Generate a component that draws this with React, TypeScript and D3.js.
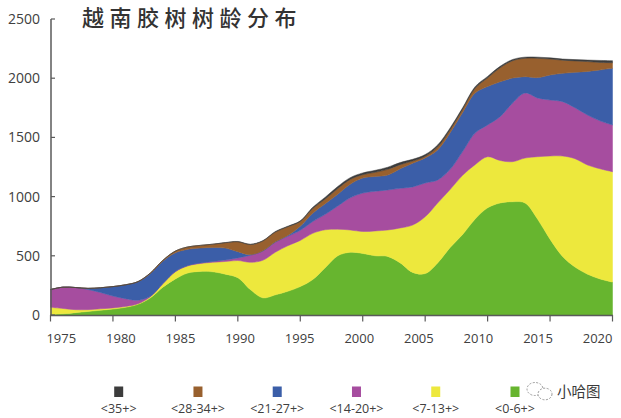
import React from 'react';
import * as d3 from 'd3';

const years = [1975,1976,1977,1978,1979,1980,1981,1982,1983,1984,1985,1986,1987,1988,1989,1990,1991,1992,1993,1994,1995,1996,1997,1998,1999,2000,2001,2002,2003,2004,2005,2006,2007,2008,2009,2010,2011,2012,2013,2014,2015,2016,2017,2018,2019,2020];

const age0_6 =   [5,10,20,30,40,50,65,90,145,235,305,355,368,365,345,315,215,145,170,200,240,300,400,500,530,520,500,495,440,360,350,440,570,680,810,905,946,957,946,810,640,495,405,345,305,278];
const age7_13 =  [60,45,25,15,12,10,7,5,10,30,60,60,67,80,107,145,230,317,360,385,390,390,320,225,188,185,210,223,295,400,480,506,490,500,460,432,359,338,380,527,703,848,915,922,930,932];
const age14_20 = [150,180,187,170,138,100,66,30,3,1,3,3,5,7,13,22,60,78,85,80,85,100,130,195,272,325,335,338,335,322,285,194,170,200,267,268,370,495,549,496,473,459,430,422,405,395];
const age21_27 = [0,0,0,10,40,80,117,155,192,189,157,137,125,118,100,53,5,2,3,7,35,70,90,100,115,127,125,126,165,200,211,254,310,330,338,325,295,211,138,172,211,239,300,368,430,478];
const age28_34 = [0,0,0,0,0,0,0,2,5,7,15,20,23,28,45,83,85,83,82,73,40,40,40,48,40,28,35,48,35,18,14,26,25,28,40,73,118,147,155,163,135,111,96,83,63,48];
const age35 =    [0,0,0,0,0,0,0,0,0,0,0,0,0,0,2,3,3,3,5,5,5,10,15,17,15,15,17,18,18,15,15,16,15,12,13,12,12,10,10,10,10,10,11,13,17,17];

const seriesKeys = ['a0_6', 'a7_13', 'a14_20', 'a21_27', 'a28_34', 'a35'];
const seriesColors = ['#67b52f', '#ede83d', '#a64d9f', '#3b5ea8', '#98602e', '#3c3c3c'];

const legendNames = ['<35+>', '<28-34+>', '<21-27+>', '<14-20+>', '<7-13+>', '<0-6+>'];
const legendColors = ['#3c3c3c', '#98602e', '#3b5ea8', '#a64d9f', '#ede83d', '#67b52f'];

const yTicks = [0, 500, 1000, 1500, 2000, 2500];
const xTicks = [1975, 1980, 1985, 1990, 1995, 2000, 2005, 2010, 2015, 2020];

const title = '越南胶树树龄分布';

export default function App() {
  const W = 621;
  const H = 418;
  const x = d3.scaleLinear().domain([1975, 2020]).range([50.5, 612.5]);
  const y = d3.scaleLinear().domain([0, 2500]).range([315, 19]);
  const labelX = d3.scalePoint<string>().domain(xTicks.map(String)).range([61.3, 597.6]);
  const legendX = d3.scalePoint<string>().domain(legendNames).range([118.7, 515]);

  const table = years.map((yr, i) => ({
    year: yr,
    a0_6: age0_6[i],
    a7_13: age7_13[i],
    a14_20: age14_20[i],
    a21_27: age21_27[i],
    a28_34: age28_34[i],
    a35: age35[i],
  }));
  const stacked = d3.stack<any>().keys(seriesKeys)(table);
  const area = d3
    .area<any>()
    .x((d) => x(d.data.year))
    .y0((d) => y(d[0]))
    .y1((d) => y(d[1]))
    .curve(d3.curveCatmullRom.alpha(0.5));

  const axisColor = '#5a5a5a';
  const textColor = '#404040';

  return (
    <svg width={W} height={H} style={{ position: 'absolute', left: 0, top: 0, background: '#fff' }}>
      <rect x={0} y={0} width={W} height={H} fill="#fff" />
      <text
        x={82}
        y={26}
        fontFamily="'Noto Sans CJK SC', sans-serif"
        fontSize={22}
        fontWeight={500}
        letterSpacing={5.5}
        fill="#333"
      >
        {title}
      </text>

      {stacked.map((s, i) => (
        <path key={seriesKeys[i]} d={area(s as any) || ''} fill={seriesColors[i]} stroke={seriesColors[i]} strokeWidth={0.5} />
      ))}

      {/* y axis */}
      <line x1={51} x2={51} y1={y(2500)} y2={y(0) + 1} stroke={axisColor} strokeWidth={1.5} />
      {yTicks.map((t) => (
        <g key={t}>
          <line x1={51} x2={55} y1={y(t)} y2={y(t)} stroke={axisColor} strokeWidth={1.2} />
          <text
            x={40}
            y={y(t)}
            dy="0.36em"
            textAnchor="end"
            fontFamily="'Open Sans', sans-serif"
            fontSize={14}
            fill={textColor}
          >
            {t}
          </text>
        </g>
      ))}

      {/* x axis */}
      <line x1={50} x2={613} y1={315.5} y2={315.5} stroke={axisColor} strokeWidth={1.5} />
      {xTicks.map((t) => (
        <line key={'t' + t} x1={x(t)} x2={x(t)} y1={315} y2={321.5} stroke={axisColor} strokeWidth={1.2} />
      ))}
      {xTicks.map((t) => (
        <text
          key={'l' + t}
          x={labelX(String(t))}
          y={343}
          textAnchor="middle"
          fontFamily="'Open Sans', sans-serif"
          fontSize={13}
          fill={textColor}
        >
          {t}
        </text>
      ))}

      {/* legend */}
      {legendNames.map((n, i) => {
        const cx = legendX(n) as number;
        return (
          <g key={n}>
            <rect x={cx - 4.5} y={386.5} width={9} height={10.5} fill={legendColors[i]} />
            <text
              x={cx}
              y={412.5}
              textAnchor="middle"
              fontFamily="'Open Sans', sans-serif"
              fontSize={12.5}
              fill={textColor}
            >
              {n}
            </text>
          </g>
        );
      })}

      {/* watermark */}
      <g fill="none" stroke="#9a9a9a" strokeWidth={1} strokeDasharray="2 1.5">
        <ellipse cx={535} cy={389} rx={8} ry={6.5} fill="#fff" />
        <ellipse cx={545} cy={394} rx={7} ry={5.8} fill="#fff" />
      </g>
      <text
        x={557}
        y={397}
        fontFamily="'Noto Sans CJK SC', sans-serif"
        fontSize={14.5}
        fill="#3a3a3a"
      >
        小哈图
      </text>
    </svg>
  );
}
